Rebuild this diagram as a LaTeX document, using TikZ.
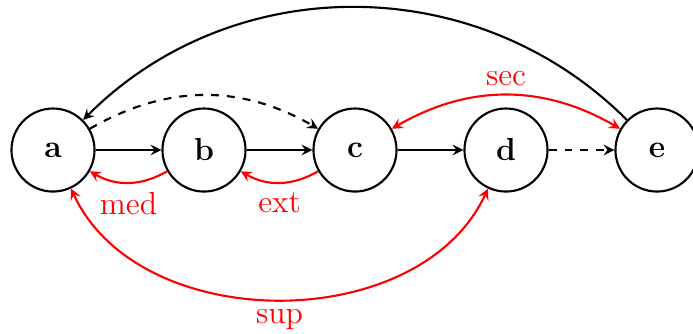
\documentclass[tikz,border=0pt]{standalone}
\usetikzlibrary{arrows.meta,positioning}
\begin{document}
\begin{tikzpicture}[x=1cm,y=1cm,>=stealth,
  state/.style={circle,draw,thick,minimum size=1.1cm,inner sep=0pt,font=\large\bfseries},
  flow/.style={->,thick},
  rel/.style={thick,red},
  rellabel/.style={font=\large,text=red}]
\useasboundingbox (-0.702,-2.424) rectangle (8.477,1.987);
\node[state] (a) at (0,0) {a};
\node[state] (b) at (2,0) {b};
\node[state] (c) at (4,0) {c};
\node[state] (d) at (6,0) {d};
\node[state] (e) at (8,0) {e};
\draw[flow] (a) -- (b);
\draw[flow] (b) -- (c);
\draw[flow] (c) -- (d);
\draw[flow,dashed] (d) -- (e);
\draw[flow,dashed] (a) to[bend left=30] (c);
\draw[flow] (e) to[bend right=45] (a);
\draw[rel,->] (b) to[bend left=30] node[rellabel,below] {med} (a);
\draw[rel,->] (c) to[bend left=30] node[rellabel,below] {ext} (b);
\draw[rel,<->] (c) to[bend left=30] node[rellabel,above] {sec} (e);
\draw[rel,<->] (a) to[bend right=65] node[rellabel,below] {sup} (d);
\end{tikzpicture}
\end{document}
